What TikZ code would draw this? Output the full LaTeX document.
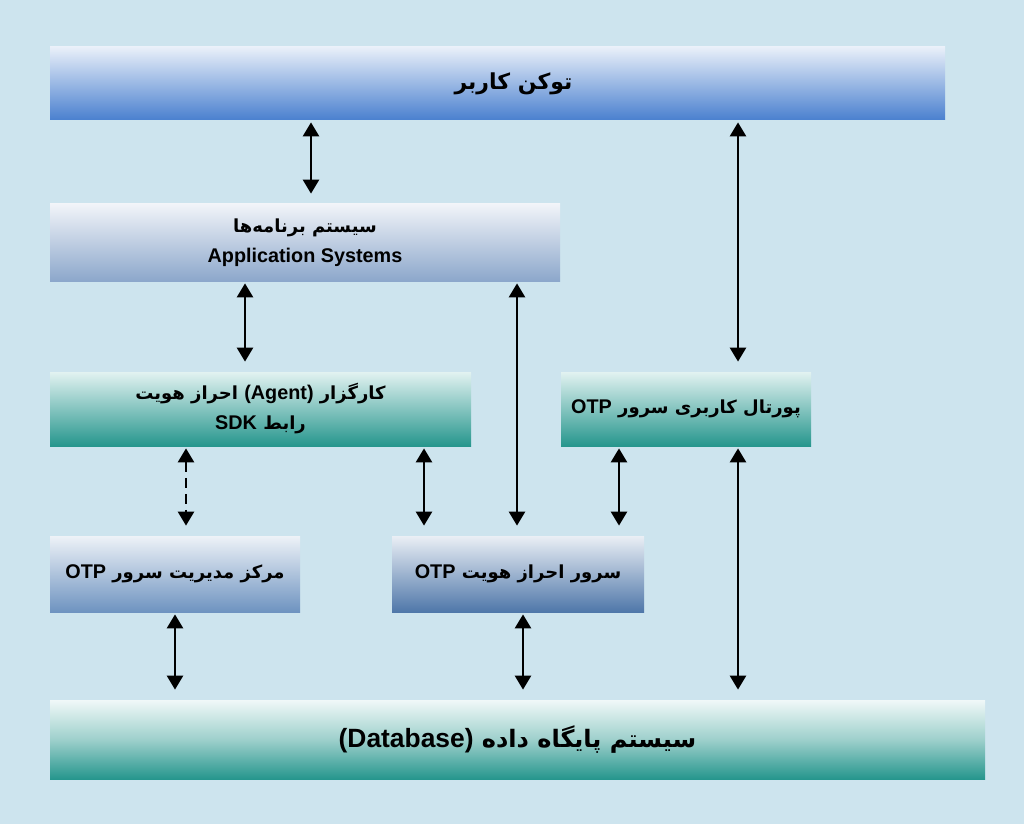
\documentclass[tikz,border=0pt]{standalone}
\usepackage{fontspec}
\TeXXeTstate=1
\newfontfamily\arabicfont[Script=Arabic]{DejaVu Sans}
\newfontfamily\latinfont[Scale=1.1]{Liberation Sans}
\newcommand\lat[1]{\beginL{\latinfont\bfseries #1}\endL}
\usetikzlibrary{arrows.meta}

\definecolor{bgblue}{HTML}{CDE4EE}
\definecolor{tokenblue}{HTML}{4A80CF}
\definecolor{appblue}{HTML}{8CA7CB}
\definecolor{srvblue}{HTML}{4F77A9}
\definecolor{mgmtblue}{HTML}{6E93C0}
\definecolor{tealdark}{HTML}{26968D}
\definecolor{tealtop}{HTML}{E2F2F1}

\begin{document}
\begin{tikzpicture}[x=0.5pt,y=-0.5pt,
  box/.style={rectangle,inner sep=0pt,align=center,font=\arabicfont\bfseries\fontsize{9}{15}\selectfont},
  bluebox/.style={box,top color=#1!12!white,bottom color=#1},
  tealbox/.style={box,top color=tealtop,bottom color=tealdark},
  link/.style={{Triangle[width=8pt,length=7pt]}-{Triangle[width=8pt,length=7pt]},line width=1.3pt,
    shorten <=1pt,shorten >=5pt}]

\fill[bgblue] (0,0) rectangle (1024,824);

\node[bluebox=tokenblue,minimum width=447.5pt,minimum height=36.5pt,
  font=\arabicfont\bfseries\fontsize{11}{13}\selectfont] (token) at (497.5,83.5) {\hspace{16pt}\beginR توکن کاربر\endR};
\node[bluebox=appblue,minimum width=255pt,minimum height=38.5pt] (apps) at (305,242.5)
  {\beginR سیستم برنامه‌ها\endR\\\lat{Application Systems}};
\node[tealbox,minimum width=210.5pt,minimum height=37pt] (agent) at (260.5,409)
  {\beginR کارگزار \lat{(Agent)}{} احراز هویت\endR\\\beginR رابط \lat{SDK}\endR};
\node[tealbox,minimum width=125pt,minimum height=37pt] (portal) at (686,409)
  {\beginR پورتال کاربری سرور \lat{OTP}\endR};
\node[bluebox=mgmtblue,minimum width=125pt,minimum height=38pt] (mgmt) at (175,574)
  {\beginR مرکز مدیریت سرور \lat{OTP}\endR};
\node[bluebox=srvblue,minimum width=126pt,minimum height=38pt] (auth) at (518,574)
  {\beginR سرور احراز هویت \lat{OTP}\endR};
\node[box,top color=tealtop!50!white,bottom color=tealdark,middle color=tealdark!45!white,
  minimum width=467.5pt,minimum height=39.5pt,
  font=\arabicfont\bfseries\fontsize{12}{14}\selectfont] (db) at (517.5,739.5)
  {\beginR سیستم پایگاه داده \lat{(Database)}\endR};

% links
\draw[link] (token.south -| 311,0) -- (apps.north -| 311,0);
\draw[link] (token.south -| 738,0) -- (portal.north -| 738,0);
\draw[link] (apps.south -| 245,0) -- (agent.north -| 245,0);
\draw[link] (apps.south -| 517,0) -- (auth.north -| 517,0);
\draw[link,dash pattern=on 5pt off 3pt] (agent.south -| 186,0) -- (mgmt.north -| 186,0);
\draw[link] (agent.south -| 424,0) -- (auth.north -| 424,0);
\draw[link] (portal.south -| 619,0) -- (auth.north -| 619,0);
\draw[link] (portal.south -| 738,0) -- (db.north -| 738,0);
\draw[link] (mgmt.south -| 175,0) -- (db.north -| 175,0);
\draw[link] (auth.south -| 523,0) -- (db.north -| 523,0);
\end{tikzpicture}
\end{document}
